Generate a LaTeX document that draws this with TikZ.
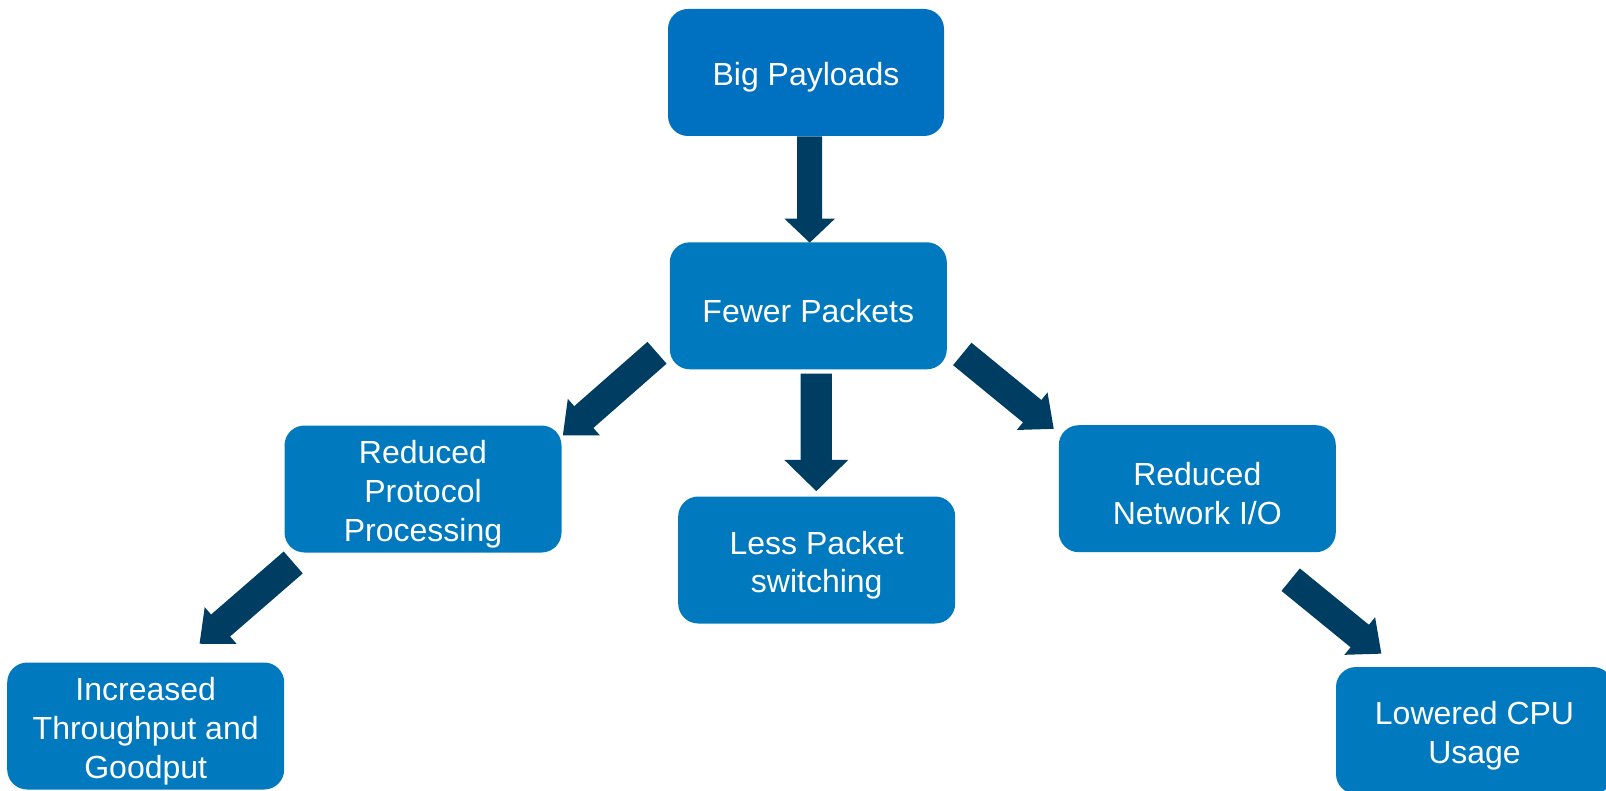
\documentclass[tikz,border=0pt]{standalone}
\usepackage{fontspec}
\setmainfont{Liberation Sans}
\usetikzlibrary{arrows.meta,calc}
\definecolor{boxblue}{HTML}{0079BE}
\definecolor{topblue}{HTML}{0070C0}
\definecolor{arrowblue}{HTML}{003D62}
\tikzset{
  box/.style={rectangle, rounded corners=15pt, fill=boxblue,
    minimum width=207.75pt, minimum height=95.25pt, inner sep=0pt},
  txt/.style={text=white, align=center, inner sep=0pt, yshift=-3.8pt,
    font=\fontsize{24}{29}\selectfont},
  blockarrow/.style={draw=arrowblue, line cap=butt},
  diagarrow/.style={blockarrow, line width=21.75pt,
    -{Triangle[width=35pt,length=21pt]}},
}
\begin{document}
\begin{tikzpicture}[x=0.75pt,y=-0.75pt]
\useasboundingbox (0,0) rectangle (1606,791);
\clip (0,0) rectangle (1606,791);
\node[box, fill=topblue, minimum width=207pt,
  label={[txt]center:{Big Payloads}}] (big) at (806,72.5) {};
\node[box, label={[txt]center:{Fewer Packets}}] (fewer) at (808.3,305.8) {};
\node[box, label={[txt]center:{Reduced\\Protocol\\Processing}}] (rpp) at (423,489) {};
\node[box, label={[txt]center:{Reduced\\Network I/O}}] (rnio) at (1197.3,488.7) {};
\node[box, label={[txt]center:{Less Packet\\switching}}] (less) at (816.7,560) {};
\node[box, label={[txt]center:{Increased\\Throughput and\\Goodput}}] (inc) at (145.7,726) {};
\node[box, label={[txt]center:{Lowered CPU\\Usage}}] (cpu) at (1474.5,730.5) {};
% vertical arrows
\draw[blockarrow, line width=18.75pt, -{Triangle[width=36.75pt,length=18pt]}]
  ($(big.south)+(3.7,0)$) -- ($(fewer.north)+(1.4,0.7)$);
\draw[blockarrow, line width=23.5pt, -{Triangle[width=46.5pt,length=23.5pt]}]
  ($(fewer.south)+(8,4)$) -- ($(less.north)+(-0.4,-5)$);
% diagonal arrows
\draw[diagarrow] ($(fewer.south west)+(-12.5,-16.8)$) -- ($(rpp.north east)+(1,10.3)$);
\draw[diagarrow] ($(fewer.south east)+(15.2,-15.6)$) -- ($(rnio.north west)+(-4.7,4)$);
\draw[diagarrow] ($(rpp.south west)+(9,9.7)$) -- ($(inc.north east)+(-85,-18.4)$);
\draw[diagarrow] ($(rnio.south east)+(-45.4,27.2)$) -- ($(cpu.north west)+(45.7,-13)$);
\end{tikzpicture}
\end{document}
